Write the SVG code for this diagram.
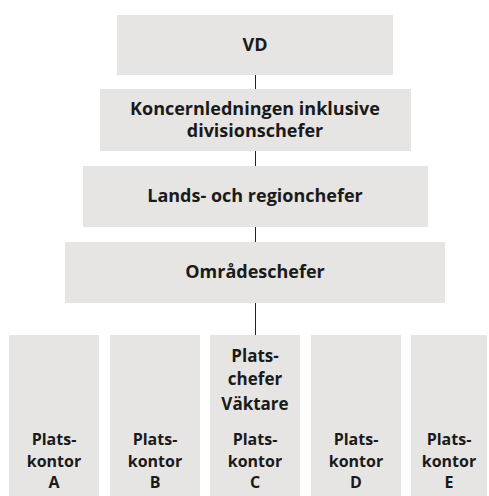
<svg xmlns="http://www.w3.org/2000/svg" width="489" height="496" viewBox="0 0 489 496">
<style>
.box{fill:#e6e5e4}
.t{font-family:"Open Sans","Noto Sans","DejaVu Sans",sans-serif;font-weight:bold;fill:#1a1a1a;text-anchor:middle}
.m{font-size:18px}
.s{font-size:16px}
.u{font-size:17px}
.c{stroke:#222;stroke-width:1;fill:none}
</style>
<rect width="489" height="496" fill="#fff"/>
<g id="connectors">
<line class="c" x1="255.5" y1="75" x2="255.5" y2="89"/>
<line class="c" x1="255.5" y1="151" x2="255.5" y2="166"/>
<line class="c" x1="255.5" y1="227" x2="255.5" y2="242"/>
<line class="c" x1="255.5" y1="303" x2="255.5" y2="335"/>
</g>
<g id="vd"><rect class="box" x="117" y="15" width="276" height="60"/><text class="t m" x="255" y="51">VD</text></g>
<g id="koncern"><rect class="box" x="100" y="89" width="311" height="62"/><text class="t m" x="255" y="115">Koncernledningen inklusive</text><text class="t m" x="255" y="137">divisionschefer</text></g>
<g id="lands"><rect class="box" x="83" y="166" width="345" height="61"/><text class="t m" x="255" y="202">Lands- och regionchefer</text></g>
<g id="omrade"><rect class="box" x="65" y="242" width="380" height="61"/><text class="t m" x="255" y="277.5">Områdeschefer</text></g>
<g id="kontorA"><rect class="box" x="9" y="335" width="90" height="161"/><text class="t s" x="54" y="445">Plats-</text><text class="t s" x="54" y="466.5">kontor</text><text class="t s" x="54" y="488">A</text></g>
<g id="kontorB"><rect class="box" x="110" y="335" width="90" height="161"/><text class="t s" x="155" y="445">Plats-</text><text class="t s" x="155" y="466.5">kontor</text><text class="t s" x="155" y="488">B</text></g>
<g id="kontorC"><rect class="box" x="210" y="335" width="90" height="161"/><text class="t u" x="255" y="361.5">Plats-</text><text class="t u" x="255" y="385">chefer</text><text class="t u" x="255" y="409.5">Väktare</text><text class="t s" x="255" y="445">Plats-</text><text class="t s" x="255" y="466.5">kontor</text><text class="t s" x="255" y="488">C</text></g>
<g id="kontorD"><rect class="box" x="311" y="335" width="90" height="161"/><text class="t s" x="356" y="445">Plats-</text><text class="t s" x="356" y="466.5">kontor</text><text class="t s" x="356" y="488">D</text></g>
<g id="kontorE"><rect class="box" x="411" y="335" width="76" height="161"/><text class="t s" x="449" y="445">Plats-</text><text class="t s" x="449" y="466.5">kontor</text><text class="t s" x="449" y="488">E</text></g>
</svg>
